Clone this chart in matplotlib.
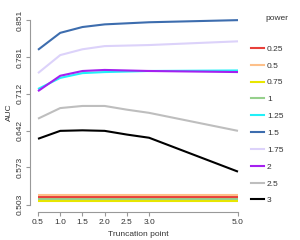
import matplotlib
matplotlib.use("Agg")
import matplotlib.pyplot as plt
from matplotlib.lines import Line2D

plt.rcParams['font.family'] = ['Liberation Sans', 'DejaVu Sans']

trunc = [0.5, 1.0, 1.5, 2.0, 2.5, 3.0, 5.0]
powers = ['0.25', '0.5', '0.75', '1', '1.25', '1.5', '1.75', '2', '2.5', '3']
colors = ['#E8403A', '#FDC08A', '#E8E600', '#96D08C', '#22F0F8', '#3D6DAE',
          '#DCD2FA', '#A520F0', '#BEBEBE', '#000000']
auc = {
    '0.25': [0.518, 0.518, 0.518, 0.518, 0.518, 0.518, 0.518],
    '0.5':  [0.521, 0.521, 0.521, 0.521, 0.521, 0.521, 0.521],
    '0.75': [0.510, 0.510, 0.510, 0.510, 0.510, 0.510, 0.510],
    '1':    [0.514, 0.514, 0.514, 0.514, 0.514, 0.514, 0.514],
    '1.25': [0.721, 0.742, 0.751, 0.753, 0.754, 0.755, 0.756],
    '1.5':  [0.795, 0.827, 0.838, 0.843, 0.845, 0.847, 0.851],
    '1.75': [0.751, 0.785, 0.796, 0.802, 0.803, 0.804, 0.811],
    '2':    [0.717, 0.746, 0.755, 0.757, 0.756, 0.755, 0.753],
    '2.5':  [0.665, 0.685, 0.689, 0.689, 0.682, 0.676, 0.642],
    '3':    [0.627, 0.642, 0.643, 0.642, 0.635, 0.629, 0.565],
}
yticks = [0.503, 0.573, 0.642, 0.712, 0.781, 0.851]
xticks = [0.5, 1.0, 1.5, 2.0, 2.5, 3.0, 5.0]
xticklabels = ['0.5', '1.0', '1.5', '2.0', '2.5', '3.0', '5.0']

fig = plt.figure(figsize=(3.0, 2.4), dpi=100)
ax = fig.add_axes([0.10, 0.117, 0.72, 0.83])

order = ['0.75', '1', '0.25', '0.5', '2.5', '3', '1.75', '1.5', '1.25', '2']
for p in order:
    c = colors[powers.index(p)]
    ax.plot(trunc, auc[p], color=c, lw=1.5, solid_capstyle='butt')

ax.set_xlim(0.32, 5.18)
ax.set_ylim(0.489, 0.865)
ax.set_xticks(xticks)
ax.set_xticklabels(xticklabels)
ax.set_yticks(yticks)
ax.set_yticklabels([f'{v:.3f}' for v in yticks])
for s in ['top', 'right']:
    ax.spines[s].set_visible(False)
ax.spines['left'].set_bounds(yticks[0], yticks[-1])
ax.spines['bottom'].set_bounds(xticks[0], xticks[-1])
for s in ['left', 'bottom']:
    ax.spines[s].set_color('#999999')
    ax.spines[s].set_linewidth(0.8)
ax.tick_params(axis='both', labelsize=6, colors='#999999', labelcolor='#333333',
               length=3, width=0.8, pad=2)
ax.tick_params(axis='y', labelrotation=90, pad=1.5)
for t in ax.get_yticklabels():
    t.set_va('center')
ax.set_xlabel('Truncation point', fontsize=6, color='#333333', labelpad=4)
ax.set_ylabel('AUC', fontsize=6, color='#333333', labelpad=3)

fig.text(265 / 300, 1 - 19 / 240, 'power', fontsize=6, color='#333333',
         ha='left', va='center')
handles = [Line2D([0], [0], color=c, lw=1.5) for c in colors]
leg = fig.legend(handles, powers, loc='upper left',
                 bbox_to_anchor=(0.837, 1 - 45 / 240), frameon=False, fontsize=6,
                 handlelength=1.5, handletextpad=0.4, labelspacing=1.08,
                 borderaxespad=0, borderpad=0)
for t in leg.get_texts():
    t.set_color('#333333')

fig.savefig('out.png', dpi=100)
